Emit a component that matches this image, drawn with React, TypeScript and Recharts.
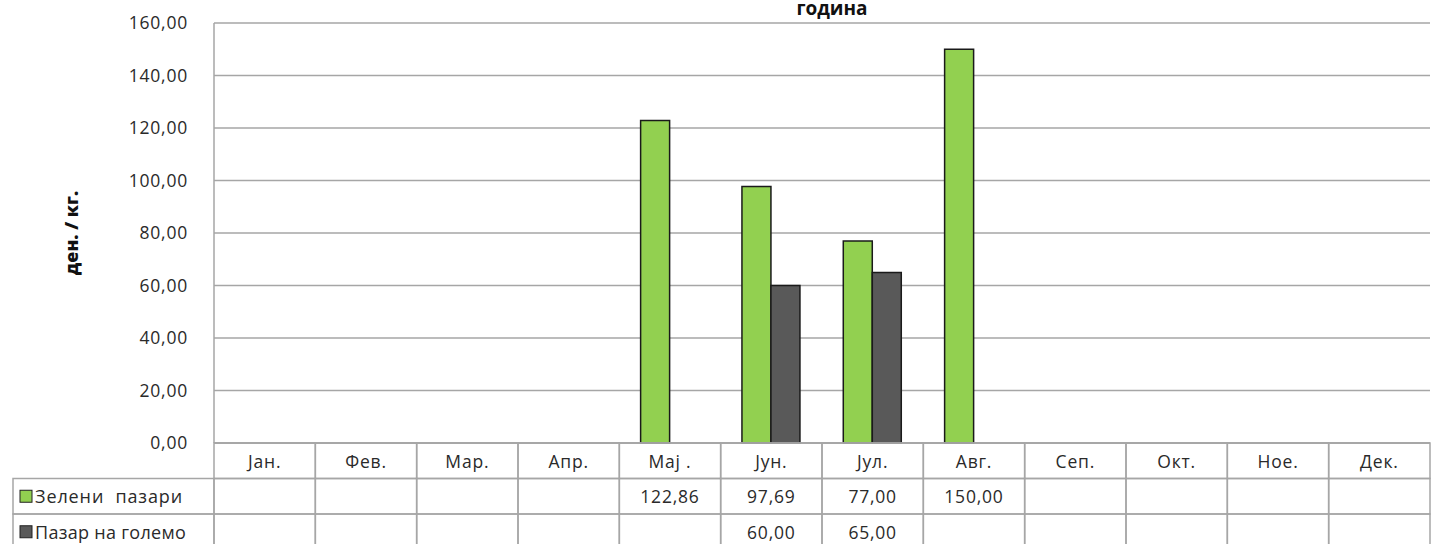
import { BarChart, Bar, XAxis, YAxis, CartesianGrid } from 'recharts';

const months = ['Јан.', 'Фев.', 'Мар.', 'Апр.', 'Мај .', 'Јун.', 'Јул.', 'Авг.', 'Сеп.', 'Окт.', 'Ное.', 'Дек.'];
const zeleniPazari = [null, null, null, null, 122.86, 97.69, 77.0, 150.0, null, null, null, null];
const pazarNaGolemo = [null, null, null, null, null, 60.0, 65.0, null, null, null, null, null];
const yTicks = [0, 20, 40, 60, 80, 100, 120, 140, 160];

const seriesNames = ['Зелени  пазари', 'Пазар на големо'];
const GREEN = '#92d050';
const DARK = '#595959';
const GRID = '#a6a6a6';
const TEXT = '#2a2a2a';
const FONT = '"Open Sans", sans-serif';

const W = 1437;
const H = 544;
const PLOT_LEFT = 214;
const PLOT_RIGHT = 7;
const PLOT_TOP = 23;
const AXIS_Y = 443;
const ROW_H = 35.5;
const LEGEND_LEFT = 13;

const data = months.map((m, i) => ({ month: m, zeleni: zeleniPazari[i], golemo: pazarNaGolemo[i] }));

const fmt = (v: number | null) => (v == null ? '' : v.toFixed(2).replace('.', ','));

function TableTick(props: any) {
  const { x, index } = props;
  const cellW = (W - PLOT_LEFT - PLOT_RIGHT) / months.length;
  const left = x - cellW / 2;
  const rows = [months[index], fmt(zeleniPazari[index]), fmt(pazarNaGolemo[index])];
  return (
    <g>
      {rows.map((t, r) => (
        <g key={r}>
          <rect x={left} y={AXIS_Y + r * ROW_H} width={cellW} height={ROW_H} fill="none" stroke={GRID} strokeWidth={1.5} />
          <text x={x} y={AXIS_Y + r * ROW_H + ROW_H / 2} textAnchor="middle" dominantBaseline="central" fontSize={17.5} letterSpacing={0.8} fill={TEXT} fontFamily={FONT}>
            {t}
          </text>
        </g>
      ))}
      {index === 0 &&
        seriesNames.map((n, r) => (
          <g key={n}>
            <rect x={LEGEND_LEFT} y={AXIS_Y + (r + 1) * ROW_H} width={left - LEGEND_LEFT} height={ROW_H} fill="none" stroke={GRID} strokeWidth={1.5} />
            <rect x={LEGEND_LEFT + 7} y={AXIS_Y + (r + 1) * ROW_H + ROW_H / 2 - 6} width={12} height={12} fill={r === 0 ? GREEN : DARK} stroke="#222" strokeWidth={1} />
            <text x={LEGEND_LEFT + 22} y={AXIS_Y + (r + 1) * ROW_H + ROW_H / 2} dominantBaseline="central" fontSize={18} letterSpacing={r === 0 ? 0.9 : 0.3} fill={TEXT} fontFamily={FONT} style={{ whiteSpace: 'pre' }}>
              {n}
            </text>
          </g>
        ))}
    </g>
  );
}

export default function App() {
  return (
    <div style={{ position: 'absolute', left: 0, top: 0, width: W, height: H, overflow: 'hidden', background: '#fff' }}>
      <div style={{ position: 'absolute', left: 732, width: 200, top: 0, lineHeight: '17px', textAlign: 'center', fontFamily: FONT, fontWeight: 700, fontSize: 19, color: '#111' }}>
        година
      </div>
      <BarChart width={W} height={H} data={data} margin={{ top: PLOT_TOP, right: PLOT_RIGHT, left: 0, bottom: 0 }} barCategoryGap="21%" barGap={0}>
        <CartesianGrid vertical={false} stroke={GRID} strokeWidth={1.5} />
        <XAxis
          dataKey="month"
          height={H - AXIS_Y}
          tickLine={false}
          tickSize={0}
          tickMargin={0}
          axisLine={{ stroke: GRID, strokeWidth: 1.5 }}
          tick={<TableTick />}
          interval={0}
        />
        <YAxis
          width={PLOT_LEFT}
          domain={[0, 160]}
          ticks={yTicks}
          tickFormatter={(v: number) => fmt(v)}
          tickLine={false}
          tickMargin={20}
          axisLine={{ stroke: GRID, strokeWidth: 1.5 }}
          tick={{ fontSize: 17.5, fill: TEXT, fontFamily: FONT, letterSpacing: 0.8 }}
          label={{ value: 'ден. / кг.', angle: -90, position: 'insideLeft', offset: 72, fontSize: 18, fontWeight: 800, fill: '#111', fontFamily: FONT, style: { textAnchor: 'middle' } }}
        />
        <Bar dataKey="zeleni" fill={GREEN} stroke="#1a1a1a" strokeWidth={1.5} isAnimationActive={false} />
        <Bar dataKey="golemo" fill={DARK} stroke="#1a1a1a" strokeWidth={1.5} isAnimationActive={false} />
      </BarChart>
    </div>
  );
}
